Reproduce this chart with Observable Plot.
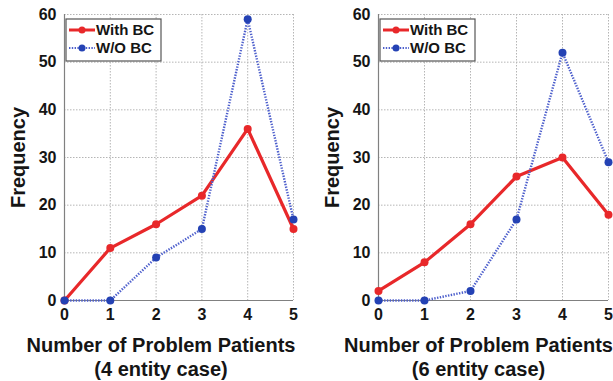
<!DOCTYPE html>
<html>
<head>
<meta charset="utf-8">
<script src="https://cdn.jsdelivr.net/npm/d3@7"></script>
<script src="https://cdn.jsdelivr.net/npm/@observablehq/plot@0.6"></script>
<style>
  html, body { margin: 0; padding: 0; background: #fff; }
  #wrap { display: flex; flex-direction: row; width: 613px; height: 381px; overflow: hidden; }
  svg { font-family: "Liberation Sans", Arial, sans-serif; }
</style>
</head>
<body>
<div id="wrap"></div>
<script>
// ---- data ----
const problemPatients = [0, 1, 2, 3, 4, 5];
const yTicks = [0, 10, 20, 30, 40, 50, 60];
const withBC4 = [0, 11, 16, 22, 36, 15];
const withoutBC4 = [0, 0, 9, 15, 59, 17];
const withBC6 = [2, 8, 16, 26, 30, 18];
const withoutBC6 = [0, 0, 2, 17, 52, 29];
const seriesNames = ["With BC", "W/O BC"];
const panelCaptions = ["(4 entity case)", "(6 entity case)"];
const xTitle = "Number of Problem Patients";
const yTitle = "Frequency";

const RED = "#e8282a";
const BLUE_DOT = "#2442b4";
const BLUE_LINE = "#4d5fcc";
const INK = "#151515";

function panel({width, marginRight, withV, withoutV, caption, titleDx}) {
  const withData = problemPatients.map((x, i) => ({x, y: withV[i]}));
  const woData = problemPatients.map((x, i) => ({x, y: withoutV[i]}));
  const marginLeft = 64, marginTop = 14, marginBottom = 81;
  const chart = Plot.plot({
    width, height: 381,
    marginLeft, marginRight, marginTop, marginBottom,
    style: {fontFamily: "'Liberation Sans', Arial, sans-serif", background: "#fff", overflow: "visible"},
    x: {domain: [0, 5], ticks: problemPatients},
    y: {domain: [0, 60], ticks: yTicks},
    marks: [
      Plot.gridX(problemPatients, {stroke: "#b5b5b5", strokeOpacity: 1, strokeDasharray: "1.5,1.5"}),
      Plot.gridY(yTicks, {stroke: "#b5b5b5", strokeOpacity: 1, strokeDasharray: "1.5,1.5"}),
      Plot.ruleX([0], {stroke: "#808080", strokeWidth: 1.2}),
      Plot.ruleY([0], {stroke: "#808080", strokeWidth: 1.2}),
      Plot.axisX(problemPatients, {tickSize: 0, tickPadding: 8, fontSize: 16, fontWeight: "bold", fill: INK, label: null}),
      Plot.axisY(yTicks, {tickSize: 0, tickPadding: 8, fontSize: 16, fontWeight: "bold", fill: INK, label: null}),
      Plot.line(withData, {x: "x", y: "y", stroke: RED, strokeWidth: 3.2}),
      Plot.dot(withData, {x: "x", y: "y", r: 4, fill: RED}),
      Plot.line(woData, {x: "x", y: "y", stroke: BLUE_LINE, strokeWidth: 2.4, strokeDasharray: "1.4,1.4", strokeLinecap: "butt"}),
      Plot.dot(woData, {x: "x", y: "y", r: 4, fill: BLUE_DOT}),
      Plot.text([yTitle], {frameAnchor: "left", textAnchor: "middle", lineAnchor: "middle", dx: -46, rotate: -90, fontSize: 20, fontWeight: "bold", fill: INK}),
      Plot.text([xTitle], {frameAnchor: "bottom", textAnchor: "middle", lineAnchor: "middle", dy: 45, dx: titleDx, fontSize: 20, fontWeight: "bold", fill: INK}),
      Plot.text([caption], {frameAnchor: "bottom", textAnchor: "middle", lineAnchor: "middle", dy: 69, dx: titleDx, fontSize: 20, fontWeight: "bold", fill: INK})
    ]
  });
  // legend box (pixel layout inside the frame)
  const svg = d3.select(chart);
  const lx = marginLeft + 2, ly = 19;
  const g = svg.append("g").attr("text-anchor", "start");
  g.append("rect").attr("x", lx).attr("y", ly).attr("width", 95).attr("height", 42)
    .attr("fill", "#fff").attr("stroke", "#555").attr("stroke-width", 1.2);
  const rows = [
    {name: seriesNames[0], line: RED, dot: RED, w: 3, dash: null},
    {name: seriesNames[1], line: BLUE_LINE, dot: BLUE_DOT, w: 2.2, dash: "1.4,1.4"}
  ];
  rows.forEach((r, i) => {
    const cy = ly + 11 + i * 18;
    g.append("line").attr("x1", lx + 3).attr("x2", lx + 29).attr("y1", cy).attr("y2", cy)
      .attr("stroke", r.line).attr("stroke-width", r.w).attr("stroke-dasharray", r.dash);
    g.append("circle").attr("cx", lx + 16).attr("cy", cy).attr("r", 3.5).attr("fill", r.dot);
    g.append("text").attr("x", lx + 30).attr("y", cy).attr("dy", "0.35em")
      .attr("text-anchor", "start")
      .attr("font-size", 15).attr("font-weight", "bold").attr("fill", INK).text(r.name);
  });
  return chart;
}

const wrap = document.getElementById("wrap");
wrap.appendChild(panel({width: 314, marginRight: 21, withV: withBC4, withoutV: withoutBC4, caption: panelCaptions[0], titleDx: -18}));
wrap.appendChild(panel({width: 299, marginRight: 5, withV: withBC6, withoutV: withoutBC6, caption: panelCaptions[1], titleDx: -15}));
</script>
</body>
</html>
